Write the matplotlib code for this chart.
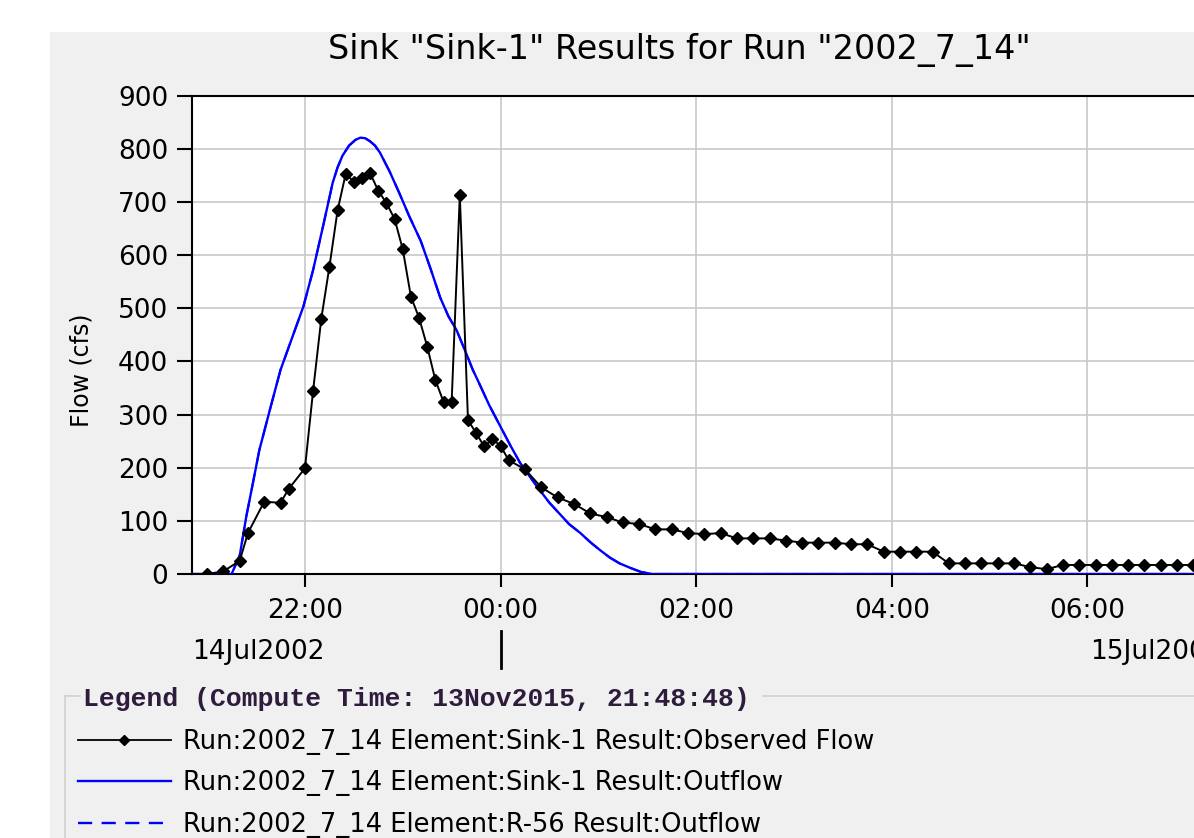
import matplotlib
matplotlib.use("Agg")
import matplotlib.pyplot as plt
from matplotlib.lines import Line2D
from matplotlib.patches import Rectangle
import numpy as np

# observed flow, minutes after 22:00 on 14Jul2002
obs_min = [-75, -60, -50, -40, -35, -25, -15, -10, 0, 5, 10, 15, 20, 25, 30, 35, 40, 45,
           50, 55, 60, 65, 70, 75, 80, 85, 90, 95, 100, 105, 110, 115, 120, 125,
           135, 145, 155, 165, 175, 185, 195, 205, 215, 225, 235, 245, 255, 265, 275,
           285, 295, 305, 315, 325, 335, 345, 355, 365, 375, 385, 395, 405, 415, 425,
           435, 445, 455, 465, 475, 485, 495, 505, 515, 525, 535, 545, 555]
obs_flow = [0, 0, 5, 25, 77, 136, 134, 160, 199, 345, 480, 578, 684, 753, 738, 745, 754, 721,
            698, 668, 611, 522, 482, 428, 365, 324, 324, 713, 290, 265, 240, 254, 241, 214,
            197, 163, 144, 132, 114, 107, 97, 94, 84, 84, 77, 75, 77, 67, 67,
            67, 63, 59, 59, 59, 56, 56, 42, 42, 42, 42, 20, 20, 20, 20,
            20, 13, 9, 17, 17, 17, 17, 17, 17, 17, 17, 17, 17]

# simulated outflow (Sink-1 and R-56 are identical)
out_min = [-75, -45, -40, -36, -32, -28, -21, -15, -9, -1, 5, 11, 17, 20, 23, 27, 31, 34, 37,
           40, 43, 46, 52, 58, 64, 71, 77, 83, 88, 93, 98, 103, 107, 113, 120, 126, 132, 138,
           144, 150, 156, 162, 169, 175, 181, 187, 193, 200, 206, 213, 600]
out_flow = [0, 0, 35, 108, 170, 233, 315, 384, 435, 503, 572, 653, 736, 765, 787, 806, 817, 821,
            820, 814, 806, 793, 757, 716, 673, 627, 575, 520, 485, 459, 422, 384, 358, 318, 277,
            242, 209, 183, 158, 134, 114, 94, 77, 60, 45, 31, 20, 11, 4, 0, 0]

xtick_hours = [22, 24, 26, 28, 30]
xtick_labels = ["22:00", "00:00", "02:00", "04:00", "06:00"]
yticks = list(range(0, 1000, 100))

legend_labels = ["Run:2002_7_14 Element:Sink-1 Result:Observed Flow",
                 "Run:2002_7_14 Element:Sink-1 Result:Outflow",
                 "Run:2002_7_14 Element:R-56 Result:Outflow"]

W, H = 1194, 838
fig = plt.figure(figsize=(W / 100, H / 100), dpi=100)
fig.patch.set_facecolor("white")
plt.rcParams["font.family"] = ["DejaVu Sans"]

# gray panel
fig.patches.append(Rectangle((50 / W, 0), 1, 1 - 32 / H, transform=fig.transFigure,
                             facecolor="#f0f0f0", edgecolor="none", zorder=-10))

x0 = 20.845
x1 = 32.0
px_per_h = 97.8
ax = fig.add_axes([192 / W, 1 - 574 / H, (x1 - x0) * px_per_h / W, 478.3 / H])
ax.set_facecolor("white")

obs_h = 22 + np.array(obs_min) / 60.0
out_h = 22 + np.array(out_min) / 60.0

ax.plot(out_h, out_flow, color="#0000ff", lw=1.5, ls=(0, (8, 5)), zorder=3)
ax.plot(out_h, out_flow, color="#0000ff", lw=1.7, zorder=3)
ax.plot(obs_h, obs_flow, color="black", lw=1.4, marker="D", markersize=6.5, zorder=4)

ax.set_xlim(x0, x1)
ax.set_ylim(0, 900)
ax.set_xticks(xtick_hours)
ax.set_xticklabels(xtick_labels)
ax.set_yticks(yticks)
ax.grid(True, color="#c8c8c8", lw=1.2)
ax.set_axisbelow(True)
for s in ["top", "left", "bottom"]:
    ax.spines[s].set_linewidth(1.5)
    ax.spines[s].set_color("black")
ax.spines["right"].set_visible(False)
ax.tick_params(axis="x", direction="out", length=9, width=1.5, pad=8, labelsize=19)
ax.tick_params(axis="y", direction="out", length=11, width=1.5, pad=6, labelsize=19)

# date labels under the time axis
tr = ax.get_xaxis_transform()
ax.text(x0, -0.163, "14Jul2002", transform=tr, ha="left", va="center", fontsize=19)
ax.text(30.03, -0.163, "15Jul2002", transform=tr, ha="left", va="center", fontsize=19)
ax.plot([24, 24], [-0.12, -0.197], transform=tr, color="black", lw=2, clip_on=False)

fig.text(679 / W, 1 - 50 / H, 'Sink "Sink-1" Results for Run "2002_7_14"',
         ha="center", va="center", fontsize=24)
fig.text(82 / W, 1 - 370 / H, "Flow (cfs)", rotation=90, ha="center", va="center", fontsize=17)

# legend box
fig.add_artist(Line2D([65 / W, 80 / W], [1 - 696 / H] * 2, transform=fig.transFigure,
                      color="#d0d0d0", lw=1.2))
fig.add_artist(Line2D([763 / W, 1], [1 - 696 / H] * 2, transform=fig.transFigure,
                      color="#d0d0d0", lw=1.2))
fig.add_artist(Line2D([65 / W, 65 / W], [1 - 696 / H, 0], transform=fig.transFigure,
                      color="#d0d0d0", lw=1.2))
fig.text(83 / W, 1 - 699 / H, "Legend (Compute Time: 13Nov2015, 21:48:48)",
         ha="left", va="center", fontsize=19, family="Liberation Mono", weight="bold",
         color="#2e1c3c")

handles = [Line2D([], [], color="black", lw=1.3, marker="D", markersize=5.5),
           Line2D([], [], color="#0000ff", lw=1.7),
           Line2D([], [], color="#0000ff", lw=1.7, ls=(0, (6, 4)))]
fig.legend(handles, legend_labels, loc="upper left", bbox_to_anchor=(78 / W, 1 - 729 / H),
           frameon=False, fontsize=18.5, handlelength=3.6, handletextpad=0.5,
           labelspacing=0.6, borderpad=0, borderaxespad=0)

fig.savefig("out.png", dpi=100)
